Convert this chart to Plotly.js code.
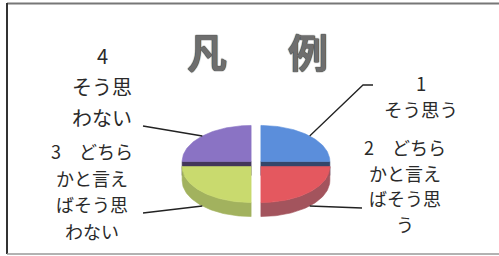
<!DOCTYPE html>
<html>
<head>
<meta charset="utf-8">
<script src="https://cdn.plot.ly/plotly-3.0.1.min.js"></script>
<style>html,body{margin:0;padding:0;background:#fff;}#chart{width:499px;height:256px;}</style>
</head>
<body>
<div id="chart"></div>
<script>
// ---- data ----
const categories = ['1 そう思う', '2 どちらかと言えばそう思う', '3 どちらかと言えばそう思わない', '4 そう思わない'];
const values = [1, 1, 1, 1];
const labelLines = [
  ['1', 'そう思う'],
  ['2　どちら', 'かと言え', 'ばそう思', 'う'],
  ['3　どちら', 'かと言え', 'ばそう思', 'わない'],
  ['4', 'そう思', 'わない']
];
const titleChars = ['凡', '例'];

// ---- styling / layout config ----
const topColors  = ['#5b8edb', '#e4585f', '#c9da6e', '#8a73c4'];
const wallColors = ['#3f5276', '#a3545d', '#a2b25e', '#4e4066'];
const faceColors = ['#34466a', '#8a4450', '#889848', '#43365a'];
const pie = {cx: 256, cy: 164, a: 69, b: 36, h: 14, explode: 0.1};
const leaderElbows = [[[363, 85], [373, 85]], [[362, 208]], [[143, 213]], [[143, 126]]];
const labelPos = [
  {x: 421, y: 83,  sp: 25.5, size: 18.5},
  {x: 405, y: 147, sp: 25.5, size: 18},
  {x: 92,  y: 151, sp: 26.7, size: 18},
  {x: 102, y: 55,  sp: 31,   size: 20}
];
const titlePos = [{x: 207, y: 51}, {x: 308, y: 51}];

// ---- geometry from values ----
const total = values.reduce((s, v) => s + v, 0);
const traces = [];
const slices = [];
let acc = 0;
values.forEach((v, i) => {
  const p0 = acc / total * 2 * Math.PI;
  acc += v;
  const p1 = acc / total * 2 * Math.PI;
  const pm = (p0 + p1) / 2;
  const ox = pie.a * pie.explode * Math.sin(pm);
  const oy = -pie.b * pie.explode * Math.cos(pm);
  slices.push({i, p0, p1, pm, ox, oy});
});
function pt(s, phi, dy) {
  return [pie.cx + s.ox + pie.a * Math.sin(phi), pie.cy + s.oy - pie.b * Math.cos(phi) + (dy || 0)];
}
function poly(points, color) {
  const xs = points.map(p => p[0]), ys = points.map(p => p[1]);
  xs.push(xs[0]); ys.push(ys[0]);
  traces.push({type: 'scatter', mode: 'lines', x: xs, y: ys, fill: 'toself', fillcolor: color,
    line: {width: 0.6, color: color}, hoverinfo: 'skip', showlegend: false});
}
const N = 60;
slices.slice().sort((u, w) => u.oy - w.oy).forEach(s => {
  const c = [pie.cx + s.ox, pie.cy + s.oy];
  // radial faces
  [[s.p1, Math.sin(s.p1)], [s.p0, -Math.sin(s.p0)]].forEach(([phi, vis]) => {
    if (vis > 1e-6) {
      const e = pt(s, phi);
      poly([c, e, [e[0], e[1] + pie.h], [c[0], c[1] + pie.h]], faceColors[s.i]);
    }
  });
  // curved wall (front half only)
  const w0 = Math.max(s.p0, Math.PI / 2), w1 = Math.min(s.p1, 3 * Math.PI / 2);
  if (w1 > w0) {
    const topArc = [], botArc = [];
    for (let k = 0; k <= N; k++) {
      const phi = w0 + (w1 - w0) * k / N;
      topArc.push(pt(s, phi));
      botArc.push(pt(s, phi, pie.h));
    }
    poly(topArc.concat(botArc.reverse()), wallColors[s.i]);
  }
  // top face
  const top = [c];
  for (let k = 0; k <= N; k++) top.push(pt(s, s.p0 + (s.p1 - s.p0) * k / N));
  poly(top, topColors[s.i]);
});
// leader lines
slices.forEach(s => {
  const front = Math.cos(s.pm) < 0;
  const start = pt(s, s.pm, front ? pie.h : 0);
  const pts = [start].concat(leaderElbows[s.i]);
  traces.push({type: 'scatter', mode: 'lines', x: pts.map(p => p[0]), y: pts.map(p => p[1]),
    line: {color: '#222', width: 1.3}, hoverinfo: 'skip', showlegend: false, name: categories[s.i]});
});

// ---- annotations ----
const annotations = [];
labelLines.forEach((lines, i) => {
  const lp = labelPos[i];
  lines.forEach((t, j) => {
    annotations.push({text: t, x: lp.x, y: lp.y + j * lp.sp, xref: 'x', yref: 'y', showarrow: false,
      xanchor: 'center', yanchor: 'middle',
      font: {family: 'Noto Sans CJK JP, sans-serif', size: lp.size, color: '#2a2a2a'}});
  });
});
titleChars.forEach((t, i) => {
  annotations.push({text: t, x: titlePos[i].x, y: titlePos[i].y, xref: 'x', yref: 'y', showarrow: false,
    xanchor: 'center', yanchor: 'middle',
    font: {family: 'Noto Sans CJK JP, sans-serif', size: 40, weight: 700, color: '#6e6e6e',
      shadow: '0 0 1px #333, 0 0 1px #333'}});
});

const layout = {
  width: 499, height: 256,
  margin: {l: 0, r: 0, t: 0, b: 0},
  paper_bgcolor: '#fff', plot_bgcolor: '#fff',
  showlegend: false,
  xaxis: {range: [0, 499], visible: false, fixedrange: true},
  yaxis: {range: [256, 0], visible: false, fixedrange: true},
  annotations: annotations,
  shapes: [
    {type: 'line', xref: 'x', yref: 'y', x0: 7, y0: 3.5, x1: 499, y1: 3.5, line: {color: '#777', width: 2}},
    {type: 'line', xref: 'x', yref: 'y', x0: 7, y0: 3, x1: 7, y1: 254, line: {color: '#333', width: 2}},
    {type: 'line', xref: 'x', yref: 'y', x0: 7, y0: 254, x1: 499, y1: 254, line: {color: '#999', width: 1.5}}
  ]
};
Plotly.newPlot('chart', traces, layout, {staticPlot: true, displayModeBar: false});
</script>
</body>
</html>
